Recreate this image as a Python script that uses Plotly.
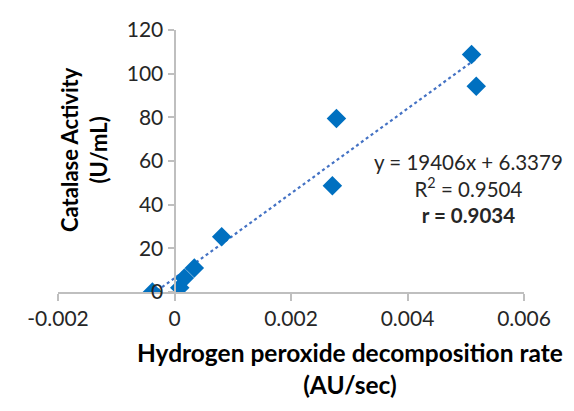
import plotly.graph_objects as go

# Data
rate = [-0.00038, 0.00009, 0.00017, 0.00034, 0.00081, 0.00271, 0.00278, 0.00510, 0.00518]
activity = [0.0, 2.0, 6.4, 11.0, 25.3, 48.7, 79.5, 108.8, 94.2]

slope = 19406
intercept = 6.3379
r_squared = 0.9504
r_value = 0.9034

x_ticks = [-0.002, 0, 0.002, 0.004, 0.006]
x_tick_labels = ["-0.002", "0", "0.002", "0.004", "0.006"]
y_ticks = [0, 20, 40, 60, 80, 100, 120]

FONT = "Lato"
TXT = "#262626"

trend_x = [min(rate), max(rate)]
trend_y = [slope * v + intercept for v in trend_x]

fig = go.Figure()
fig.add_trace(go.Scatter(
    x=trend_x, y=trend_y, mode="lines",
    line=dict(color="#4472C4", width=2.2, dash="dot"),
    hoverinfo="skip", showlegend=False,
))
fig.add_trace(go.Scatter(
    x=rate, y=activity, mode="markers",
    marker=dict(symbol="diamond", size=15, color="#0070C0"),
    showlegend=False,
))

fig.update_layout(
    width=574, height=411,
    margin=dict(l=58, r=50, t=30, b=119),
    paper_bgcolor="white", plot_bgcolor="white",
    font=dict(family=FONT, size=21, color=TXT),
    xaxis=dict(
        range=[-0.002, 0.006], tickvals=x_ticks, ticktext=x_tick_labels,
        showgrid=False, zeroline=False, showline=True,
        linecolor="#BFBFBF", linewidth=2,
        ticks="outside", ticklen=7, tickcolor="#BFBFBF", tickwidth=2,
        tickfont=dict(family=FONT, size=21, color=TXT),
    ),
    yaxis=dict(
        range=[0, 120], tickvals=y_ticks,
        showgrid=False, zeroline=False, showline=True,
        linecolor="#BFBFBF", linewidth=2,
        ticks="outside", ticklen=6, tickcolor="#BFBFBF", tickwidth=2,
        tickfont=dict(family=FONT, size=21, color=TXT),
        anchor="free", position=0.25,
    ),
)

# Axis titles
fig.add_annotation(
    text="<b>Catalase Activity</b><br><b>(U/mL)</b>",
    xref="paper", yref="paper", x=(84 - 58) / 466, y=(292 - 150) / 262,
    xanchor="center", yanchor="middle", textangle=-90, showarrow=False,
    font=dict(family=FONT, size=22, color="#000000"),
)
fig.add_annotation(
    text="<b>Hydrogen peroxide decomposition rate</b><br><b>(AU/sec)</b>",
    xref="paper", yref="paper", x=(350 - 58) / 466, y=(292 - 368) / 262,
    xanchor="center", yanchor="middle", showarrow=False,
    font=dict(family=FONT, size=24.5, color="#000000"),
)

# Trendline equation
fig.add_annotation(
    text=f"y = {slope}x + {intercept}<br>R<sup>2</sup> = {r_squared}<br><b>r = {r_value}</b>",
    xref="paper", yref="paper", x=(468 - 58) / 466, y=(292 - 188) / 262,
    xanchor="center", yanchor="middle", align="center", showarrow=False,
    font=dict(family=FONT, size=20.5, color=TXT),
)

fig.write_html("out.html")
